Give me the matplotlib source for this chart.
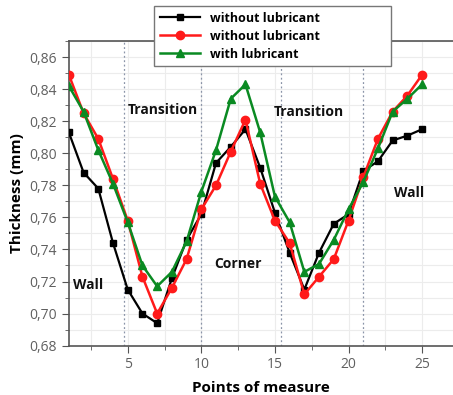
import matplotlib.pyplot as plt
from matplotlib.ticker import MultipleLocator, FuncFormatter

plt.rcParams['font.family'] = ['Open Sans', 'DejaVu Sans']

POINTS = list(range(1, 26))

# thickness at each measuring point (mm)
BLACK = [0.813, 0.788, 0.778, 0.744, 0.715, 0.700, 0.694, 0.722, 0.746, 0.762,
         0.794, 0.804, 0.815, 0.791, 0.763, 0.738, 0.715, 0.738, 0.756, 0.762,
         0.789, 0.795, 0.808, 0.811, 0.815]
RED = [0.849, 0.825, 0.809, 0.784, 0.758, 0.723, 0.700, 0.716, 0.734, 0.765,
       0.780, 0.801, 0.821, 0.781, 0.758, 0.744, 0.712, 0.723, 0.734, 0.758,
       0.785, 0.809, 0.826, 0.836, 0.849]
GREEN = [0.842, 0.826, 0.802, 0.781, 0.757, 0.730, 0.717, 0.726, 0.745, 0.776,
         0.802, 0.834, 0.843, 0.813, 0.773, 0.757, 0.726, 0.731, 0.746, 0.765,
         0.782, 0.803, 0.826, 0.834, 0.843]

LABELS = ["without lubricant", "without lubricant", "with lubricant"]

# zone boundaries and zone names
BOUNDS = [4.77, 10.0, 15.4, 20.97]
ZONES = [("Transition", 7.4, 0.827), ("Transition", 17.3, 0.826),
         ("Wall", 2.3, 0.718), ("Corner", 12.5, 0.731), ("Wall", 24.1, 0.775)]

fig = plt.figure(figsize=(4.53, 3.95), dpi=100)
ax = fig.add_axes([0.152, 0.125, 0.848, 0.771])

ax.plot(POINTS, BLACK, color='black', marker='s', markersize=5, lw=1.6,
        label=LABELS[0], zorder=3)
ax.plot(POINTS, RED, color='#ff1a1a', marker='o', markersize=6, lw=1.8,
        label=LABELS[1], zorder=3)
ax.plot(POINTS, GREEN, color='#0a8a22', marker='^', markersize=6, lw=1.8,
        label=LABELS[2], zorder=4)

for b in BOUNDS:
    ax.axvline(b, color='#8a94a8', lw=0.9, ls=(0, (1.5, 2)), zorder=2)

for text, x, y in ZONES:
    ax.text(x, y, text, ha='center', va='center', fontsize=10,
            fontweight='bold', color='#111111')

ax.set_xlim(1, 27.1)
ax.set_ylim(0.68, 0.87)
ax.xaxis.set_major_locator(MultipleLocator(5))
ax.xaxis.set_minor_locator(MultipleLocator(2.5))
ax.yaxis.set_major_locator(MultipleLocator(0.02))
ax.yaxis.set_minor_locator(MultipleLocator(0.01))
ax.yaxis.set_major_formatter(FuncFormatter(lambda v, p: f"{v:.2f}".replace('.', ',')))

ax.grid(True, which='both', color='#ececec', lw=0.8, zorder=0)
ax.set_axisbelow(True)
ax.tick_params(which='both', direction='out', color='#555555',
               labelsize=10, labelcolor='#606060')
ax.tick_params(which='major', length=5)
ax.tick_params(which='minor', length=3)
for side in ['left', 'bottom', 'top']:
    ax.spines[side].set_color('#555555')
    ax.spines[side].set_linewidth(1.2)
ax.spines['right'].set_visible(False)

ax.set_xlabel("Points of measure", fontsize=11, fontweight='bold', labelpad=6)
ax.set_ylabel("Thickness (mm)", fontsize=11, fontweight='bold', labelpad=4)

leg = fig.legend(loc='upper left', bbox_to_anchor=(0.34, 0.985, 0.523, 0.0),
                 mode='expand', fancybox=False, edgecolor='#777777',
                 framealpha=1, handlelength=3.2, borderpad=0.45,
                 borderaxespad=0, labelspacing=0.4,
                 prop={'weight': 'bold', 'size': 9})
leg.get_frame().set_linewidth(1.0)

fig.savefig('out.png', dpi=100)
